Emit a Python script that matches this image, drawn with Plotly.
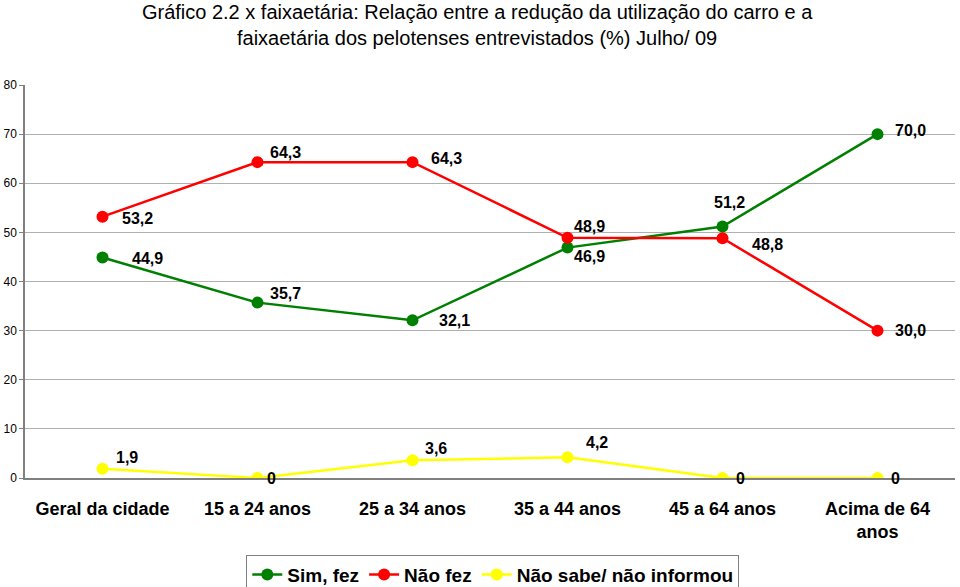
import plotly.graph_objects as go

categories = ["Geral da cidade", "15 a 24 anos", "25 a 34 anos", "35 a 44 anos", "45 a 64 anos", "Acima de 64<br>anos"]
sim_fez = [44.9, 35.7, 32.1, 46.9, 51.2, 70.0]
nao_fez = [53.2, 64.3, 64.3, 48.9, 48.8, 30.0]
nao_sabe = [1.9, 0, 3.6, 4.2, 0, 0]
sim_labels = ["44,9", "35,7", "32,1", "46,9", "51,2", "70,0"]
nao_labels = ["53,2", "64,3", "64,3", "48,9", "48,8", "30,0"]
ns_labels = ["1,9", "0", "3,6", "4,2", "0", "0"]

# label offsets (pixels) relative to each point
sim_off = [(45, -1), (28, 9), (42, 0), (22, -9), (7, 24), (33, 4)]
nao_off = [(35, -2), (28, 10), (34, 4), (22, 11), (45, -6), (33, 0)]
ns_off = [(24, 11), (14, 0), (23, 12), (29, 15), (18, 0), (18, 0)]

series = [
    ("Sim, fez", sim_fez, sim_labels, sim_off, "#008000"),
    ("Não fez", nao_fez, nao_labels, nao_off, "#FF0000"),
    ("Não sabe/ não informou", nao_sabe, ns_labels, ns_off, "#FFFF00"),
]

FONT = "Liberation Sans, Arial, sans-serif"

fig = go.Figure()
annotations = []
for name, vals, labels, offs, color in series:
    fig.add_trace(go.Scatter(
        x=categories, y=vals, name="<b>" + name + "</b>", mode="lines+markers",
        line=dict(color=color, width=2.5),
        marker=dict(color=color, size=12),
    ))
    for c, v, t, (dx, dy) in zip(categories, vals, labels, offs):
        annotations.append(dict(
            x=c, y=v, text="<b>" + t + "</b>", showarrow=False, xshift=dx, yshift=dy,
            font=dict(family=FONT, size=16, color="#000000"),
            xanchor="center", yanchor="middle",
        ))

fig.update_layout(
    width=960, height=587,
    margin=dict(l=25, r=5, t=85, b=109, autoexpand=False),
    paper_bgcolor="white", plot_bgcolor="white",
    font=dict(family=FONT, color="#000000"),
    title=dict(
        text="Gráfico 2.2 x faixaetária: Relação entre a redução da utilização do carro e a<br>faixaetária dos pelotenses entrevistados (%) Julho/ 09",
        x=0.497, xanchor="center", xref="container", y=0.968, yref="container", yanchor="top",
        font=dict(size=20, color="#000000"), automargin=False,
    ),
    xaxis=dict(
        type="category", range=[-0.5, 5.5], showgrid=False,
        showline=True, linecolor="#808080", linewidth=2,
        ticks="", tickfont=dict(size=18, color="#000000", family=FONT),
        ticklabelstandoff=13,
        tickvals=categories, ticktext=["<b>" + c + "</b>" for c in categories],
        automargin=False,
    ),
    yaxis=dict(
        range=[0, 80], dtick=10, showgrid=True, gridcolor="#B0B0B0", gridwidth=1,
        showline=True, linecolor="#808080", linewidth=1.5, ticks="outside", ticklen=4,
        tickcolor="#808080", tickfont=dict(size=12, color="#000000"), zeroline=False,
        automargin=False,
    ),
    legend=dict(
        orientation="h", x=0.503, xanchor="center", y=-0.195, yanchor="top",
        bordercolor="#808080", borderwidth=1, font=dict(size=19, color="#000000"),
        itemwidth=30, tracegroupgap=0,
    ),
    annotations=annotations,
    showlegend=True,
)

fig.write_html("out.html", post_script="document.body.style.margin='0';",
               config={"displayModeBar": False})
